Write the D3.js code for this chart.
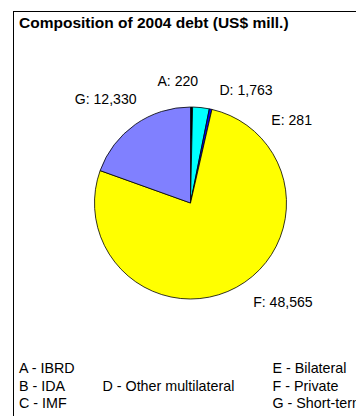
<!DOCTYPE html>
<meta charset="UTF-8">
<style>
    body { margin: 0; background: #fff; }
    text { font-family: "Liberation Sans", Arial, sans-serif; fill: #000; }
</style>
<body>
<div id="chart"></div>
<script src="https://d3js.org/d3.v7.min.js"></script>
<script>

// data
var codes  = ["A", "B", "C", "D", "E", "F", "G"];
var names  = ["IBRD", "IDA", "IMF", "Other multilateral", "Bilateral", "Private", "Short-term"];
var values = [220, 0, 0, 1763, 281, 48565, 12330];
var title  = "Composition of 2004 debt (US$ mill.)";

var width = 356, height = 416;
var cx = 190.5, cy = 203, radius = 96;

var color = d3.scaleOrdinal()
    .domain(codes)
    .range(["#000000", "#993366", "#ffffcc", "#00ffff", "#0000ff", "#ffff00", "#8080ff"]);

// label nudges (px) from the outside point of each slice, Excel moves them apart
var nudge = {
    A: [-14, -3.5],
    D: [16, 4.5],
    E: [56, 32],
    F: [6, -4],
    G: [14, -7.5]
};

var svg = d3.select("#chart").append("svg")
    .attr("width", width)
    .attr("height", height);

// chart frame
svg.append("rect")
    .attr("x", 13.5).attr("y", 11.5)
    .attr("width", 360).attr("height", 420)
    .attr("fill", "none")
    .attr("stroke", "#000")
    .attr("stroke-width", 1);

svg.append("text")
    .attr("x", 19).attr("y", 27.5)
    .attr("font-size", "15.5px")
    .attr("font-weight", "bold")
    .text(title);

var data = codes.map(function(c, i) { return {code: c, name: names[i], value: values[i]}; });

var pie = d3.pie()
    .sort(null)
    .value(function(d) { return d.value; });

var arc = d3.arc().innerRadius(0).outerRadius(radius);
var labelArc = d3.arc().innerRadius(radius + 22).outerRadius(radius + 22);

var g = svg.append("g")
    .attr("transform", "translate(" + cx + "," + cy + ")");

var arcs = pie(data).filter(function(d) { return d.data.value > 0; });

g.selectAll("path")
    .data(arcs)
    .enter().append("path")
    .attr("d", arc)
    .attr("fill", function(d) { return color(d.data.code); })
    .attr("stroke", "#000")
    .attr("stroke-width", 0.8);

g.selectAll("text.lbl")
    .data(arcs)
    .enter().append("text")
    .attr("class", "lbl")
    .attr("font-size", "14.1px")
    .attr("dy", "0.35em")
    .attr("text-anchor", function(d) {
        var mid = (d.startAngle + d.endAngle) / 2;
        if (mid < 0.05) return "middle";
        return mid < Math.PI ? "start" : "end";
    })
    .attr("transform", function(d) {
        var p = labelArc.centroid(d), n = nudge[d.data.code] || [0, 0];
        return "translate(" + (p[0] + n[0]) + "," + (p[1] + n[1]) + ")";
    })
    .text(function(d) { return d.data.code + ": " + d3.format(",")(d.data.value); });

// legend: A-C left column, D middle, E-G right column
var colX = [19, 102.5, 272.5];
var rowY = [373, 390.5, 408];
var legendPos = [[0, 0], [0, 1], [0, 2], [1, 1], [2, 0], [2, 1], [2, 2]];

svg.selectAll("text.leg")
    .data(data)
    .enter().append("text")
    .attr("class", "leg")
    .attr("font-size", "14.3px")
    .attr("x", function(d, i) { return colX[legendPos[i][0]]; })
    .attr("y", function(d, i) { return rowY[legendPos[i][1]]; })
    .text(function(d) { return d.code + " - " + d.name; });

</script>
</body>
